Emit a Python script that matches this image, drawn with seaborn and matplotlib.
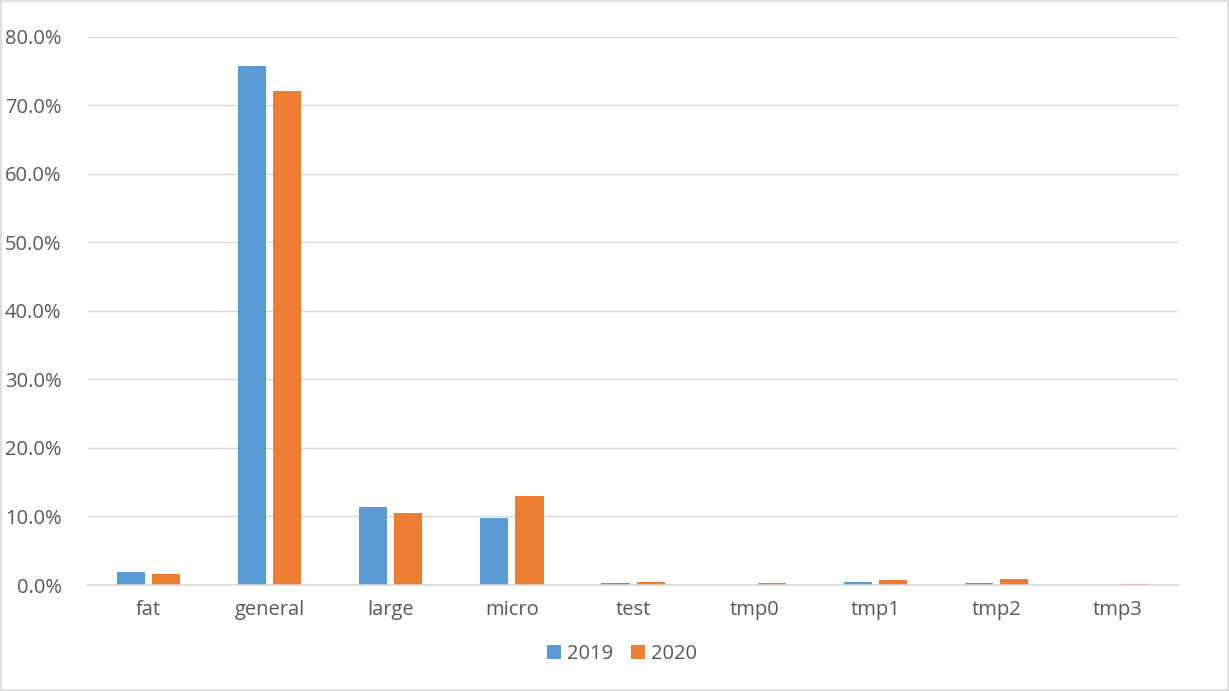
import pandas as pd
import matplotlib.pyplot as plt
import seaborn as sns
from matplotlib.ticker import PercentFormatter
from matplotlib.patches import Rectangle

#-----------------------------------------------------------
categories = ['fat', 'general', 'large', 'micro', 'test', 'tmp0', 'tmp1', 'tmp2', 'tmp3']
share_2019 = [1.9, 75.7, 11.4, 9.8, 0.25, 0.0, 0.44, 0.29, 0.0]
share_2020 = [1.56, 72.1, 10.5, 13.0, 0.44, 0.34, 0.73, 0.88, 0.15]
years = ['2019', '2020']
colors = ['#5B9BD5', '#ED7D31']

df = pd.DataFrame({
    'category': categories * 2,
    'share': share_2019 + share_2020,
    'year': [years[0]] * len(categories) + [years[1]] * len(categories),
})

#-----------------------------------------------------------
sns.set_style('white')
plt.rcParams['font.family'] = ['Open Sans', 'DejaVu Sans']

fig = plt.figure(figsize=(12.29, 6.91), dpi=100)
ax = fig.add_axes([0.0716, 0.1534, 0.887, 0.7931])

sns.barplot(data=df, x='category', y='share', hue='year', palette=colors,
            width=0.58, gap=0.2, ax=ax, saturation=1, linewidth=0)

ax.set_ylim(0, 80)
ax.set_xlim(-0.5, len(categories) - 0.5)
ax.set_yticks(range(0, 81, 10))
ax.yaxis.set_major_formatter(PercentFormatter(decimals=1))
ax.grid(axis='y', color='#D9D9D9', linewidth=1)
ax.set_axisbelow(True)
for s in ['top', 'right', 'left']:
    ax.spines[s].set_visible(False)
ax.spines['bottom'].set_color('#D9D9D9')
ax.spines['bottom'].set_linewidth(1.2)
ax.tick_params(axis='both', length=0, labelsize=14.5, colors='#595959', pad=11)
ax.tick_params(axis='y', pad=19)
ax.set_xlabel('')
ax.set_ylabel('')

leg = ax.legend(loc='upper center', bbox_to_anchor=(0.49, -0.075), ncol=2, frameon=False,
                fontsize=14.5, handlelength=0.7, handleheight=0.7, handletextpad=0.3,
                columnspacing=0.9)
for t in leg.get_texts():
    t.set_color('#595959')

fig.patches.append(Rectangle((0.001, 0.001), 0.998, 0.997, transform=fig.transFigure,
                             fill=False, edgecolor='#D9D9D9', linewidth=1.2))

fig.savefig('out.png', dpi=100, facecolor='white')
